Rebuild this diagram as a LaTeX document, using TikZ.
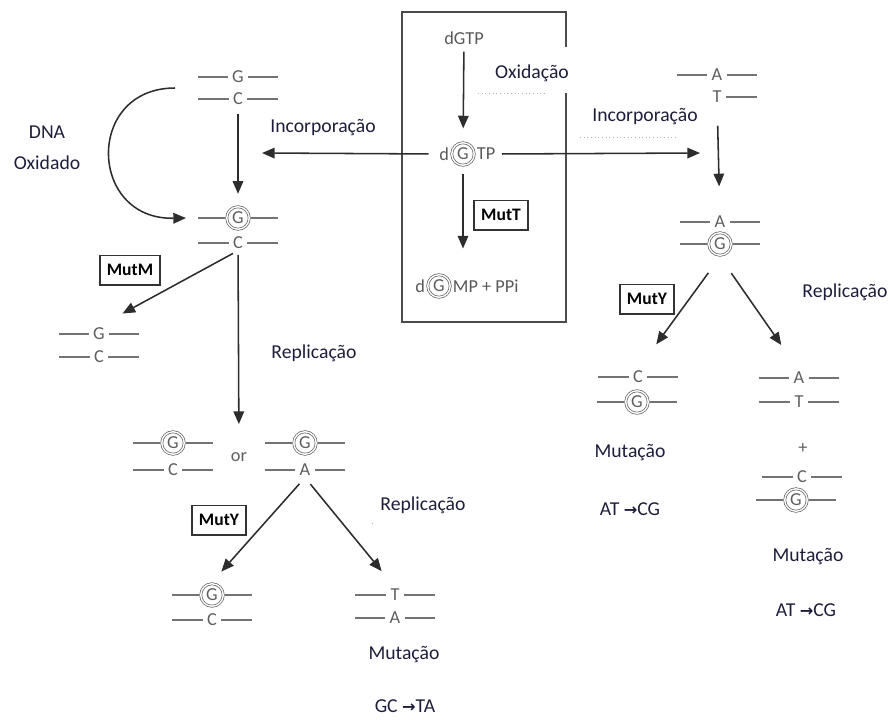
\documentclass[tikz,border=0pt]{standalone}
\usepackage{fontspec}
\setmainfont{Carlito}
\newfontfamily\symfont{DejaVu Sans}
\usetikzlibrary{arrows.meta,positioning}

\definecolor{lbltext}{RGB}{30,30,60}
\definecolor{basegray}{RGB}{95,95,95}
\definecolor{strandgray}{RGB}{115,115,115}
\definecolor{arrowgray}{RGB}{45,45,45}

\newcommand{\ratarrow}{{\symfont\bfseries\fontsize{11.5}{11.5}\selectfont →}}

\begin{document}
\begin{tikzpicture}[x=0.025cm, y=-0.025cm, >={Triangle[length=9pt,width=7.5pt]},
  base/.style={font=\fontsize{13}{13}\selectfont, text=basegray, inner xsep=3pt, inner ysep=1pt},
  oxo/.style={circle, draw=basegray, double=white, double distance=1pt, line width=0.5pt,
    minimum size=16pt, inner sep=0pt, outer sep=1.2pt, font=\fontsize{13}{13}\selectfont, text=basegray},
  strand/.style={draw=strandgray, line width=1.8pt},
  lbl/.style={font=\fontsize{14}{16}\selectfont, text=lbltext, inner sep=1pt},
  enz/.style={draw=black!80, line width=1pt, font=\bfseries\fontsize{12.5}{12.5}\selectfont,
    minimum height=0.74cm, inner xsep=5pt},
  arr/.style={->, draw=arrowgray, line width=1.1pt},
  faint/.style={draw=black!30, dotted, line width=0.6pt}]

  \useasboundingbox (0,0) rectangle (888,719);

  % ===== Central box: dGTP pool =====
  \draw[line width=1.1pt, draw=black!70] (566,47) -- (566,12) -- (402,12) -- (402,322) -- (566,322) -- (566,93);

  \node[base, text=black!65] (dgtp) at (464,38) {dGTP};
  \node[lbl] (oxid) at (532,73) {Oxidação};
  \draw[faint] (478,93) -- (547,93);

  \node[oxo] (og1) at (463,154) {G};
  \node[base, text=black!65, inner xsep=0.5pt, left=0pt of og1] (d1) {d};
  \node[base, text=black!65, inner xsep=0.5pt, right=0pt of og1] (tp1) {TP};

  \node[enz] (mutt) at (501,215) {MutT};
  \node[oxo] (og2) at (439,286) {G};
  \node[base, text=black!65, inner xsep=0.5pt, left=0pt of og2] (d2) {d};
  \node[base, text=black!65, inner xsep=0.5pt, right=0pt of og2] (mp) {MP + PPi};

  \draw[arr, shorten <=4pt, shorten >=9pt] (dgtp) -- (og1);
  \draw[arr, shorten <=5pt, shorten >=21pt] (og1) -- (og1 |- mp.north);

  % Incorporation arrows
  \coordinate (incL) at (262,153);
  \coordinate (incR) at (700,153);
  \draw[arr, shorten <=7pt] (d1.west) -- (incL);
  \draw[arr, shorten <=4pt] (tp1.east) -- (incR);
  \node[lbl] (incl) at (323,128) {Incorporação};
  \node[lbl] (incr) at (645,117) {Incorporação};
  \draw[faint] (580,137) -- (677,137);

  % ===== Left column: oxidised DNA =====
  \node[base] (lg1) at (238,77) {G};
  \node[base] (lc1) at (238,99) {C};
  \node[oxo]  (lo1) at (238,218) {G};
  \node[base] (lc2) at (238,243) {C};

  \node[lbl] (dna) at (47,132) {DNA};
  \node[lbl] (oxd) at (47,163) {Oxidado};
  \coordinate (oxsrc) at (175,88);
  \draw[arr] (oxsrc) .. controls (85,88) and (88,220) .. ([xshift=-1.3cm]lo1.center);
  \draw[arr, shorten <=5pt, shorten >=8pt] (lc1) -- (lo1);

  \node[enz] (mutm) at (130,270) {MutM};
  \node[base] (lg2) at (99,334) {G};
  \node[base] (lc3) at (99,357) {C};
  \draw[arr, shorten <=4pt, shorten >=19pt] (lc2.south) -- (lg2.north);

  \node[oxo]  (lo2) at (173,443) {G};
  \node[base] (lc4) at (173,470) {C};
  \node[base] (or) at (239,457) {or};
  \node[oxo]  (lo3) at (305,443) {G};
  \node[base] (la1) at (305,470) {A};
  \draw[arr, shorten <=3pt, shorten >=19pt] (lc2) -- (or);
  \node[lbl] (rep1) at (314,353) {Replicação};

  \node[enz] (muty1) at (219,520) {MutY};
  \node[lbl] (rep2) at (423,505) {Replicação};
  \draw[faint] (372,523) -- (374,523);

  \node[oxo]  (lo4) at (212,595) {G};
  \node[base] (lc5) at (212,620) {C};
  \node[base] (lt1) at (395,595) {T};
  \node[base] (la2) at (395,618) {A};
  \draw[arr, shorten <=6pt, shorten >=10pt] (la1.south) -- (lo4.north);
  \draw[arr, shorten <=6pt, shorten >=15pt] (la1.south) -- (lt1.north);

  \node[lbl] (mut1) at (404,655) {Mutação};
  \node[lbl] (gcta) at (405,706) {GC \ratarrow TA};

  % ===== Right column: misincorporation opposite A =====
  \node[base] (ra1) at (717,75) {A};
  \node[base] (rt1) at (717,97) {T};
  \node[base] (ra2) at (720,222) {A};
  \node[oxo]  (ro1) at (720,244) {G};
  \draw[arr, shorten <=15pt, shorten >=20pt] (rt1) -- (ra2);

  \node[enz] (muty2) at (647,299) {MutY};
  \node[lbl] (rep3) at (845,292) {Replicação};

  \node[base] (rc1) at (638,377) {C};
  \node[oxo]  (ro2) at (637,402) {G};
  \node[base] (ra3) at (799,378) {A};
  \node[base] (rt2) at (799,402) {T};
  \draw[arr, shorten <=14pt, shorten >=22pt] (ro1.south) -- (rc1.north);
  \draw[arr, shorten <=14pt, shorten >=22pt] (ro1.south) -- (ra3.north);

  \node[base] (plus) at (803,448) {+};
  \node[base] (rc2) at (802,477) {C};
  \node[oxo]  (ro3) at (796,500) {G};

  \node[lbl] (mut2) at (630,453) {Mutação};
  \node[lbl] (atcg1) at (630,509) {AT \ratarrow CG};
  \node[lbl] (mut3) at (808,557) {Mutação};
  \node[lbl] (atcg2) at (806,610) {AT \ratarrow CG};

  % Strands of every base pair
  \foreach \n in {lg1,lc1,lo1,lc2,lg2,lc3,lo2,lc4,lo3,la1,lo4,lc5,lt1,la2,
                  ra1,ra2,ro1,rc1,ro2,ra3,rt2,rc2,ro3}
    \draw[strand] (\n.west) -- ([xshift=-1cm]\n.center) (\n.east) -- ([xshift=1cm]\n.center);
  \draw[strand] (rt1.east) -- ([xshift=1cm]rt1.center);

\end{tikzpicture}
\end{document}
